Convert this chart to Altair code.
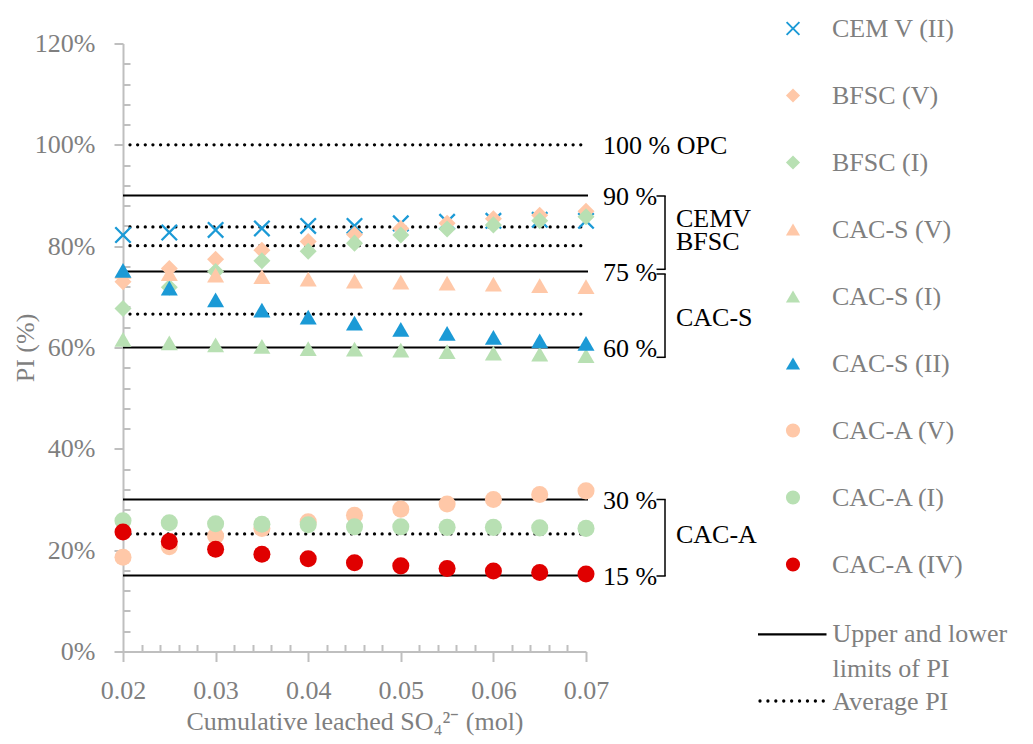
import altair as alt
import pandas as pd

# ---------------- data ----------------
x_vals = [0.02, 0.025, 0.03, 0.035, 0.04, 0.045, 0.05, 0.055, 0.06, 0.065, 0.07]
series_names = ["CEM V (II)", "BFSC (V)", "BFSC (I)", "CAC-S (V)", "CAC-S (I)",
                "CAC-S (II)", "CAC-A (V)", "CAC-A (I)", "CAC-A (IV)"]
cem_v_ii = [82.2, 82.7, 83.2, 83.5, 84.0, 84.0, 84.5, 84.8, 85.0, 85.2, 85.0]
bfsc_v = [73.0, 75.6, 77.4, 79.2, 80.9, 82.3, 83.5, 84.5, 85.4, 86.1, 86.9]
bfsc_i = [67.7, 71.9, 75.0, 77.1, 79.0, 80.6, 82.2, 83.4, 84.2, 85.0, 85.8]
cacs_v = [75.0, 74.6, 74.3, 74.0, 73.5, 73.1, 72.9, 72.7, 72.5, 72.2, 72.0]
cacs_i = [61.6, 60.9, 60.5, 60.2, 59.8, 59.7, 59.5, 59.2, 58.9, 58.7, 58.4]
cacs_ii = [75.2, 71.7, 69.4, 67.4, 66.0, 64.8, 63.6, 62.8, 62.0, 61.3, 60.8]
caca_v = [18.6, 20.7, 22.8, 24.3, 25.6, 26.9, 28.1, 29.1, 30.0, 31.0, 31.7]
caca_i = [25.8, 25.4, 25.2, 25.1, 25.0, 24.6, 24.6, 24.5, 24.5, 24.4, 24.3]
caca_iv = [23.6, 21.7, 20.2, 19.2, 18.3, 17.5, 16.9, 16.4, 15.9, 15.6, 15.3]
series_values = [cem_v_ii, bfsc_v, bfsc_i, cacs_v, cacs_i, cacs_ii, caca_v, caca_i, caca_iv]

limit_values = [90, 75, 60, 30, 15]            # upper / lower limits of PI
average_values = [100, 83.8, 80.1, 66.6, 23.2]  # average PI
limit_label_text = ["100 % OPC", "90 %", "75 %", "60 %", "30 %", "15 %"]
limit_label_vals = [100, 90, 75, 60, 30, 15]
group_names = ["CEMV\nBFSC", "CAC-S", "CAC-A"]
group_ranges = [(90, 75), (75, 60), (30, 15)]

x_major = [0.02, 0.03, 0.04, 0.05, 0.06, 0.07]
x_minor = [0.022, 0.024, 0.026, 0.028, 0.032, 0.034, 0.036, 0.038,
           0.042, 0.044, 0.046, 0.048, 0.052, 0.054, 0.056, 0.058,
           0.062, 0.064, 0.066, 0.068]
y_major = [0, 20, 40, 60, 80, 100, 120]
y_minor = [4, 8, 12, 16, 24, 28, 32, 36, 44, 48, 52, 56, 64, 68, 72, 76,
           84, 88, 92, 96, 104, 108, 112, 116]

# ---------------- styles ----------------
FONT = "Liberation Serif"
FS = 26
GRAY_TXT = "#7F7F7F"
AXIS_GRAY = "#BFBFBF"
BLUE, PEACH, GREEN, RED = "#1B9AD6", "#FFC8A8", "#B8E0B3", "#E00000"
series_colors = [BLUE, PEACH, GREEN, PEACH, GREEN, BLUE, PEACH, GREEN, RED]
a = 0.19
X_PATH = (f"M-1,{-1 + a}L{-1 + a},-1L0,{-a}L{1 - a},-1L1,{-1 + a}L{a},0"
          f"L1,{1 - a}L{1 - a},1L0,{a}L{-1 + a},1L-1,{1 - a}L{-a},0Z")
series_shapes = [X_PATH, "diamond", "diamond", "triangle-up", "triangle-up",
                 "triangle-up", "circle", "circle", "circle"]

W, H = 463, 608
xscale = alt.Scale(domain=[x_vals[0], x_vals[-1]], nice=False, zero=False)
yscale = alt.Scale(domain=[0, 120], nice=False, zero=False)

rows = []
for name, vals in zip(series_names, series_values):
    for xv, yv in zip(x_vals, vals):
        rows.append({"series": name, "x": xv, "pi": yv})
pts_df = pd.DataFrame(rows)

x_axis = alt.Axis(values=x_major, format=".2f", title="Cumulative leached SO₄²⁻ (mol)",
                  grid=False, domainColor=AXIS_GRAY, domainWidth=2, tickColor=AXIS_GRAY,
                  tickWidth=2, tickSize=10, labelPadding=16, labelColor=GRAY_TXT,
                  labelFont=FONT, labelFontSize=FS, labelFlush=False, labelOverlap=False,
                  titleFont=FONT, titleFontSize=FS, titleColor=GRAY_TXT,
                  titleFontWeight="normal", titleY=78, titleBaseline="alphabetic")
y_axis = alt.Axis(values=y_major, labelExpr="datum.value + '%'", title="PI (%)",
                  grid=False, domainColor=AXIS_GRAY, domainWidth=2, tickColor=AXIS_GRAY,
                  tickWidth=2, tickSize=9, labelPadding=19, labelColor=GRAY_TXT,
                  labelFont=FONT, labelFontSize=FS, labelOverlap=False,
                  titleFont=FONT, titleFontSize=FS, titleColor=GRAY_TXT,
                  titleFontWeight="normal", titleX=-90, titleY=H / 2,
                  titleBaseline="alphabetic", titleAlign="center", titleAngle=-90)
x_minor_axis = alt.Axis(values=x_minor, orient="bottom", offset=-7, tickSize=7,
                        domain=False, labels=False, title=None, grid=False,
                        tickColor=AXIS_GRAY, tickWidth=2)
y_minor_axis = alt.Axis(values=y_minor, orient="left", offset=-7, tickSize=7,
                        domain=False, labels=False, title=None, grid=False,
                        tickColor=AXIS_GRAY, tickWidth=2)

legend = alt.Legend(title=None, orient="none", legendX=657, legendY=-28,
                    direction="vertical", symbolSize=200, symbolStrokeWidth=0,
                    symbolOpacity=1, labelFont=FONT, labelFontSize=FS,
                    labelColor=GRAY_TXT, labelOffset=26, rowPadding=41,
                    labelLimit=400, padding=0)

# ---------------- layers ----------------
lim_df = pd.DataFrame({"v": limit_values, "x0": x_vals[0], "x1": x_vals[-1]})
avg_df = pd.DataFrame({"v": average_values, "x0": x_vals[0], "x1": x_vals[-1]})

solid = alt.Chart(lim_df).mark_rule(color="black", strokeWidth=2.2, x2Offset=2).encode(
    x=alt.X("x0:Q", scale=xscale, axis=None), x2="x1:Q",
    y=alt.Y("v:Q", scale=yscale, axis=None))

dotted = alt.Chart(avg_df).mark_rule(color="black", strokeWidth=3.3, strokeCap="round",
                                      strokeDash=[0.01, 7.63], xOffset=7, x2Offset=2).encode(
    x=alt.X("x0:Q", scale=xscale, axis=None), x2="x1:Q",
    y=alt.Y("v:Q", scale=yscale, axis=None))

points = alt.Chart(pts_df).mark_point(filled=True, size=290, opacity=1, strokeWidth=0).encode(
    x=alt.X("x:Q", scale=xscale, axis=x_axis),
    y=alt.Y("pi:Q", scale=yscale, axis=y_axis),
    color=alt.Color("series:N", scale=alt.Scale(domain=series_names, range=series_colors),
                    sort=series_names, legend=legend),
    shape=alt.Shape("series:N", scale=alt.Scale(domain=series_names, range=series_shapes),
                    sort=series_names, legend=legend),
)

minor = alt.Chart(pts_df).mark_point(opacity=0).encode(
    x=alt.X("x:Q", scale=xscale, axis=x_minor_axis),
    y=alt.Y("pi:Q", scale=yscale, axis=y_minor_axis))

lab_df = pd.DataFrame({"t": limit_label_text, "v": limit_label_vals})
lim_labels = alt.Chart(lab_df).mark_text(align="left", baseline="middle", dy=1,
                                         font=FONT, fontSize=FS, color="black").encode(
    x=alt.value(480), y=alt.Y("v:Q", scale=yscale, axis=None), text="t:N")

layers = [solid, dotted, points, minor, lim_labels]

# brackets and group labels
bracket_offsets = [(0.5, -2.2), (2.5, 9.8), (0, 0.5)]
group_dy = [-14.5, 8, -3]
for name, (hi, lo), (o1, o2), gdy in zip(group_names, group_ranges, bracket_offsets, group_dy):
    bdf = pd.DataFrame({"hi": [hi], "lo": [lo], "mid": [(hi + lo) / 2]})
    base = alt.Chart(bdf)
    layers.append(base.mark_rule(color="black", strokeWidth=1.5, yOffset=o1, y2Offset=o2).encode(
        x=alt.value(542), y=alt.Y("hi:Q", scale=yscale, axis=None), y2="lo:Q"))
    layers.append(base.mark_rule(color="black", strokeWidth=1.5, yOffset=o1).encode(
        x=alt.value(533.5), x2=alt.value(542.7), y=alt.Y("hi:Q", scale=yscale, axis=None)))
    layers.append(base.mark_rule(color="black", strokeWidth=1.5, yOffset=o2).encode(
        x=alt.value(533.5), x2=alt.value(542.7), y=alt.Y("lo:Q", scale=yscale, axis=None)))
    layers.append(base.mark_text(align="left", baseline="middle", dy=gdy, font=FONT,
                                 fontSize=FS, color="black", lineHeight=23.3,
                                 lineBreak="\n").encode(
        x=alt.value(553), y=alt.Y("mid:Q", scale=yscale, axis=None), text=alt.value(name)))

# line legend entries
one = pd.DataFrame({"k": [0]})
layers.append(alt.Chart(one).mark_rule(color="black", strokeWidth=2.2).encode(
    x=alt.value(635), x2=alt.value(703.5), y=alt.value(590.8)))
layers.append(alt.Chart(one).mark_rule(color="black", strokeWidth=3.3, strokeCap="round",
                                       strokeDash=[0.01, 7.9]).encode(
    x=alt.value(637), x2=alt.value(702), y=alt.value(657.5)))
for txt, ypix in [("Upper and lower", 598.2), ("limits of PI", 633.2), ("Average PI", 666.5)]:
    layers.append(alt.Chart(one).mark_text(align="left", baseline="alphabetic", font=FONT,
                                           fontSize=FS, color=GRAY_TXT).encode(
        x=alt.value(709.5), y=alt.value(ypix), text=alt.value(txt)))

chart = alt.layer(*layers).resolve_axis(x="independent", y="independent").properties(
    width=W, height=H,
    padding={"left": 115, "top": 35.5, "right": 439, "bottom": 84.5},
    autosize=alt.AutoSizeParams(type="none"),
    background="white",
).configure(font=FONT).configure_view(stroke=None).configure_axis(
    labelFont=FONT, titleFont=FONT, labelFontSize=FS, titleFontSize=FS,
    labelColor=GRAY_TXT, titleColor=GRAY_TXT, titleFontWeight="normal",
)

chart.save("out.html", embed_options={"renderer": "svg", "actions": False})
